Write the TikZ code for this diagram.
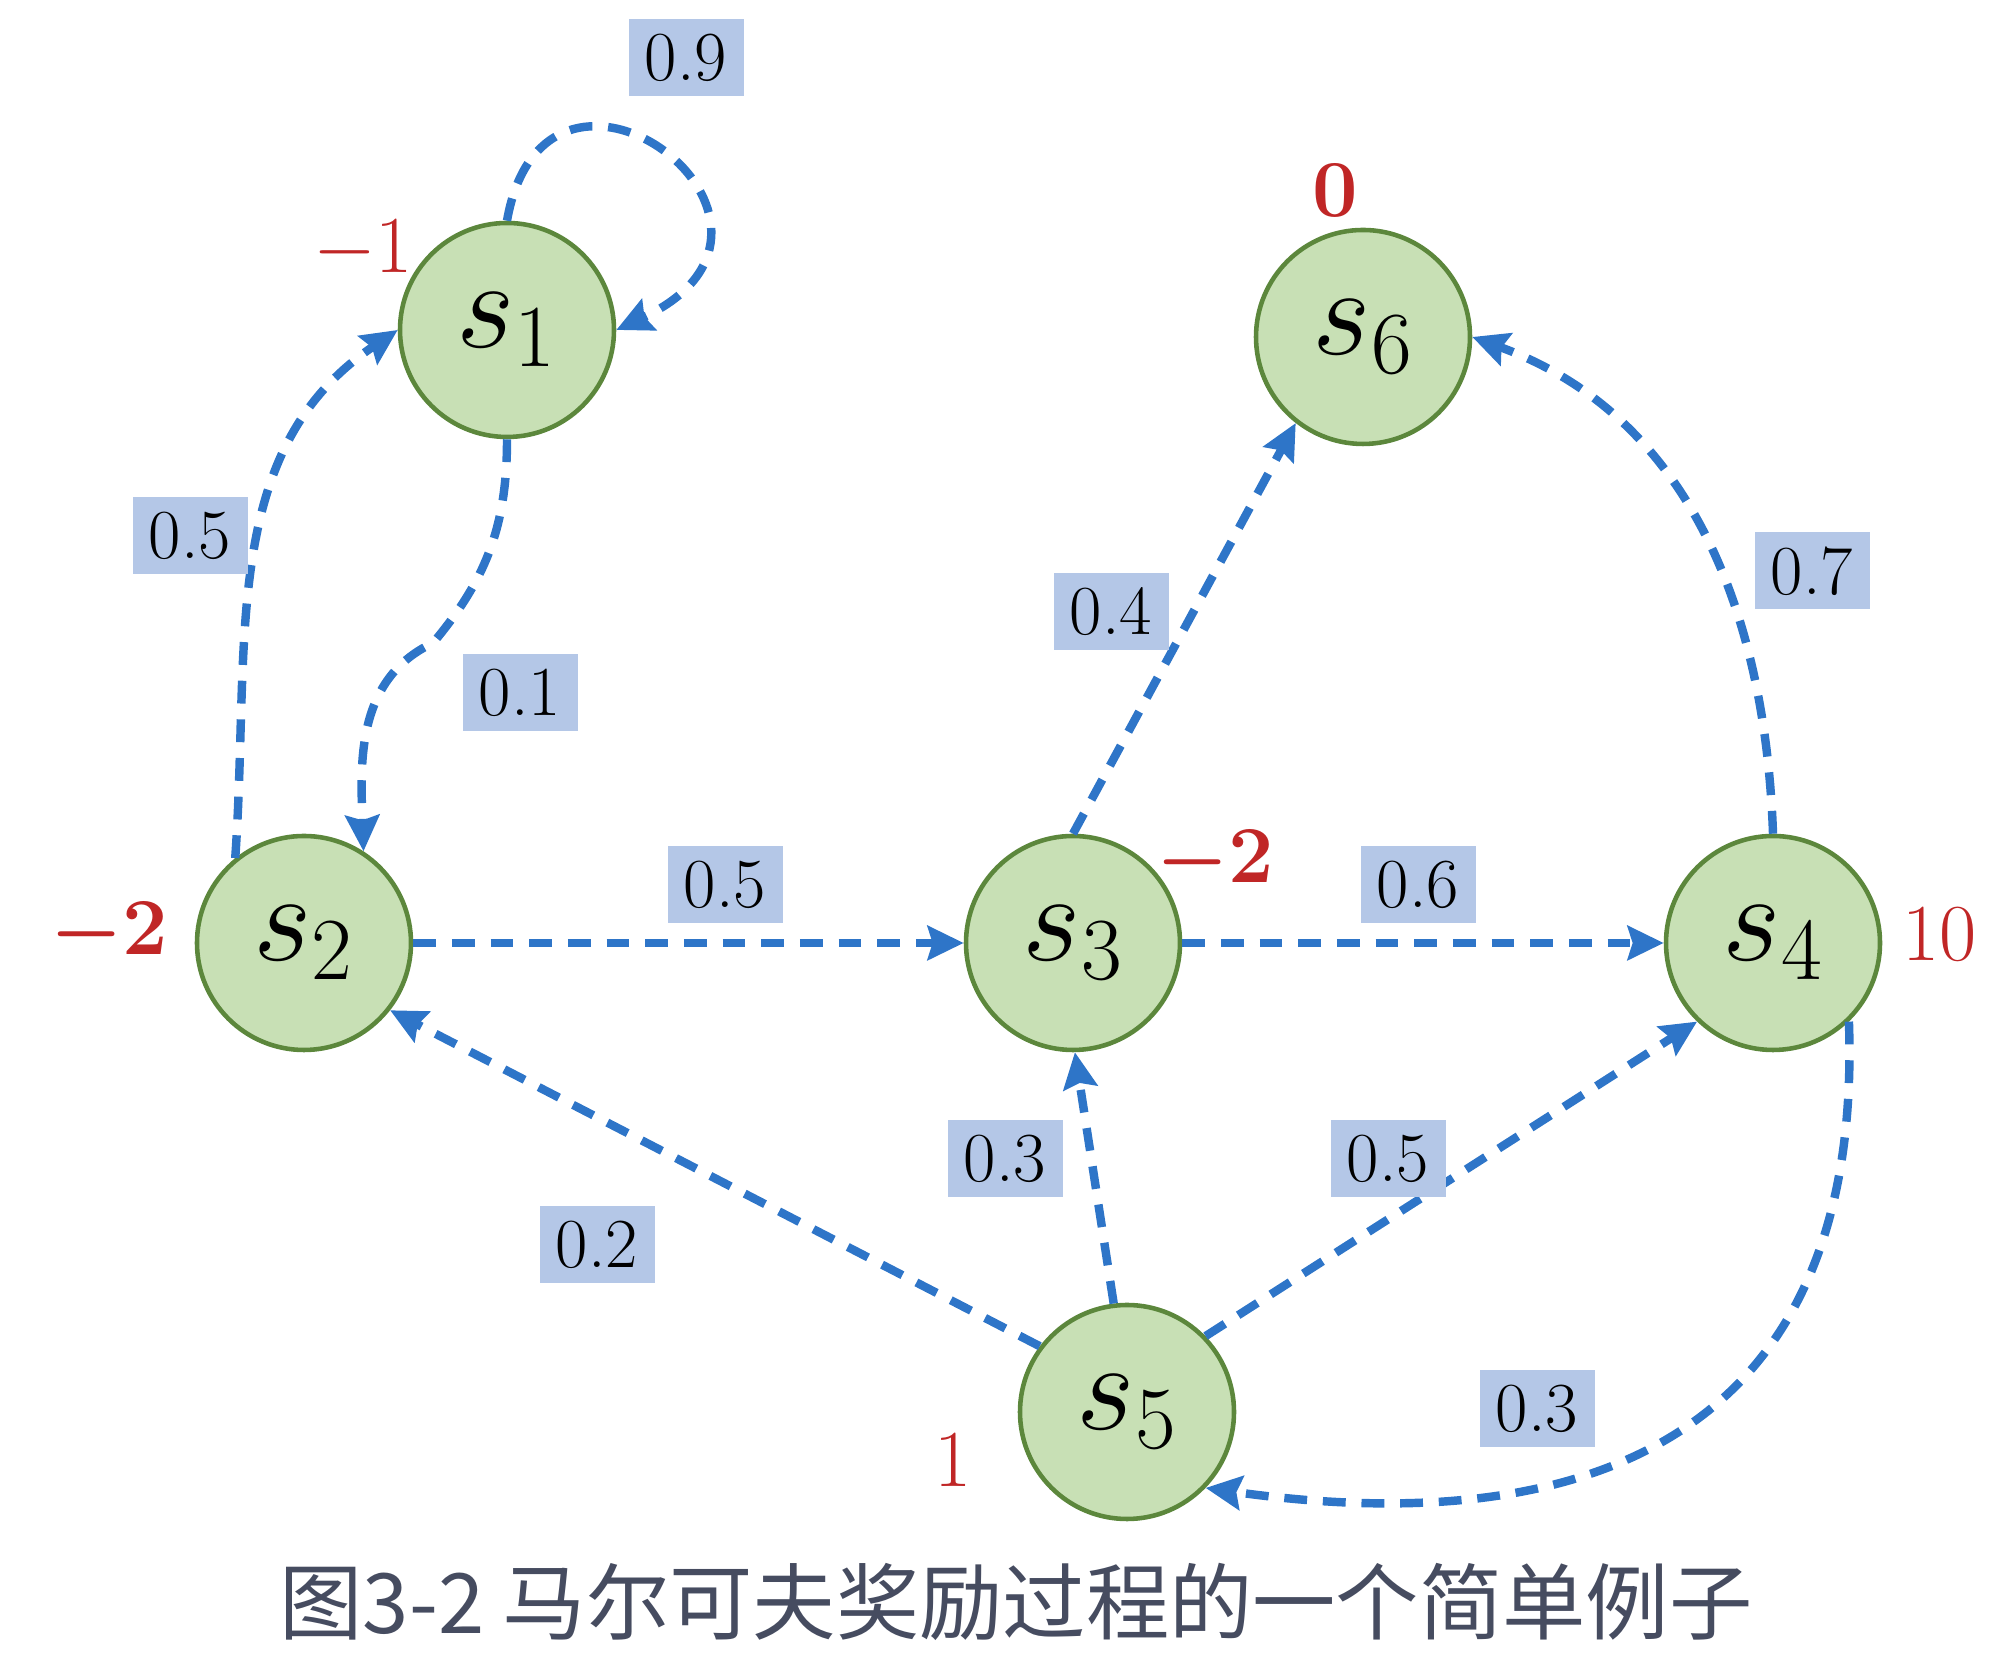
\RequirePackage{fix-cm}
\documentclass[tikz,border=0pt]{standalone}
\usepackage{amsmath,amssymb}
\usepackage{fontspec}
\newfontfamily\cjk{Noto Sans CJK SC}
\usepackage{tikz}
\usetikzlibrary{arrows.meta,positioning,calc}

\definecolor{edgeblue}{RGB}{46,117,200}
\definecolor{boxblue}{RGB}{180,199,231}
\definecolor{stgreen}{RGB}{200,224,181}
\definecolor{stborder}{RGB}{92,135,60}
\definecolor{rwred}{RGB}{192,38,38}
\definecolor{capgray}{RGB}{70,76,96}

\begin{document}
\begin{tikzpicture}[
  st/.style={draw=stborder, fill=stgreen, line width=1.3pt, circle, minimum size=21.4mm, inner sep=0pt, font=\fontsize{36}{40}\selectfont},
  tr/.style={-{Stealth[length=3.6mm, width=3.4mm, inset=0.5mm]}, draw=edgeblue, line width=2.4pt, dash pattern=on 6.5pt off 4.5pt},
  pr/.style={fill=boxblue, minimum width=11.5mm, minimum height=7.7mm, inner sep=1pt, font=\fontsize{20}{24}\selectfont},
  rw/.style={text=rwred, inner sep=0pt, font=\fontsize{23}{26}\selectfont}]
\useasboundingbox (0,0) rectangle (20.12,16.72);
% states
\node[st] (s1) at (5.07,13.42) {$s_1$};
\node[st] (s2) at (3.04,7.29) {$s_2$};
\node[st] (s3) at (10.73,7.29) {$s_3$};
\node[st] (s4) at (17.73,7.29) {$s_4$};
\node[st] (s5) at (11.27,2.60) {$s_5$};
\node[st] (s6) at (13.63,13.35) {$s_6$};
% rewards
\node[rw] (r1) at (3.63,14.22) {$-1$};
\node[rw] (r2) at (1.09,7.38) {$\boldsymbol{-2}$};
\node[rw] (r3) at (12.15,8.10) {$\boldsymbol{-2}$};
\node[rw] (r4) at (19.40,7.38) {$10$};
\node[rw] (r5) at (9.53,2.12) {$1$};
\node[rw] (r6) at (13.35,14.82) {$\boldsymbol{0}$};
% transitions
\coordinate (k1) at (4.33,10.29);
\draw[tr] (s1.north) .. controls +(80:2.25) and +(25:2.5) .. (s1.east);
\draw[tr] (s2.129) to[out=86, in=214] (s1.west);
\draw[tr] (s1.south) to[out=-90, in=50] (k1) to[out=205, in=92] (s2.57);
\draw[tr] (s2.east) -- (s3.west);
\draw[tr] (s3.east) -- (s4.west);
\draw[tr] (s3.north) -- (s6.232);
\draw[tr] (s4.north) to[out=92, in=-20] (s6.east);
\draw[tr] (s5.143) -- (s2.-38);
\draw[tr] (s5.97) -- (s3.-89);
\draw[tr] (s5.44) -- (s4.226);
\draw[tr] (s4.-46) to[out=-88, in=-8, looseness=1.3] (s5.-44);
% probabilities
\node[pr] (p11) at (6.86,16.14) {0.9};
\node[pr] (p21) at (1.90,11.36) {0.5};
\node[pr] (p12) at (5.20,9.79) {0.1};
\node[pr] (p23) at (7.25,7.87) {0.5};
\node[pr] (p36) at (11.11,10.60) {0.4};
\node[pr] (p34) at (14.18,7.87) {0.6};
\node[pr] (p46) at (18.12,11.01) {0.7};
\node[pr] (p53) at (10.05,5.13) {0.3};
\node[pr] (p54) at (13.88,5.13) {0.5};
\node[pr] (p52) at (5.97,4.27) {0.2};
\node[pr] (p45) at (15.37,2.63) {0.3};
% caption
\node[text=capgray, font=\cjk\fontsize{23.7}{28}\selectfont] (cap) at (10.16,0.70) {图3-2 马尔可夫奖励过程的一个简单例子};
\end{tikzpicture}
\end{document}
